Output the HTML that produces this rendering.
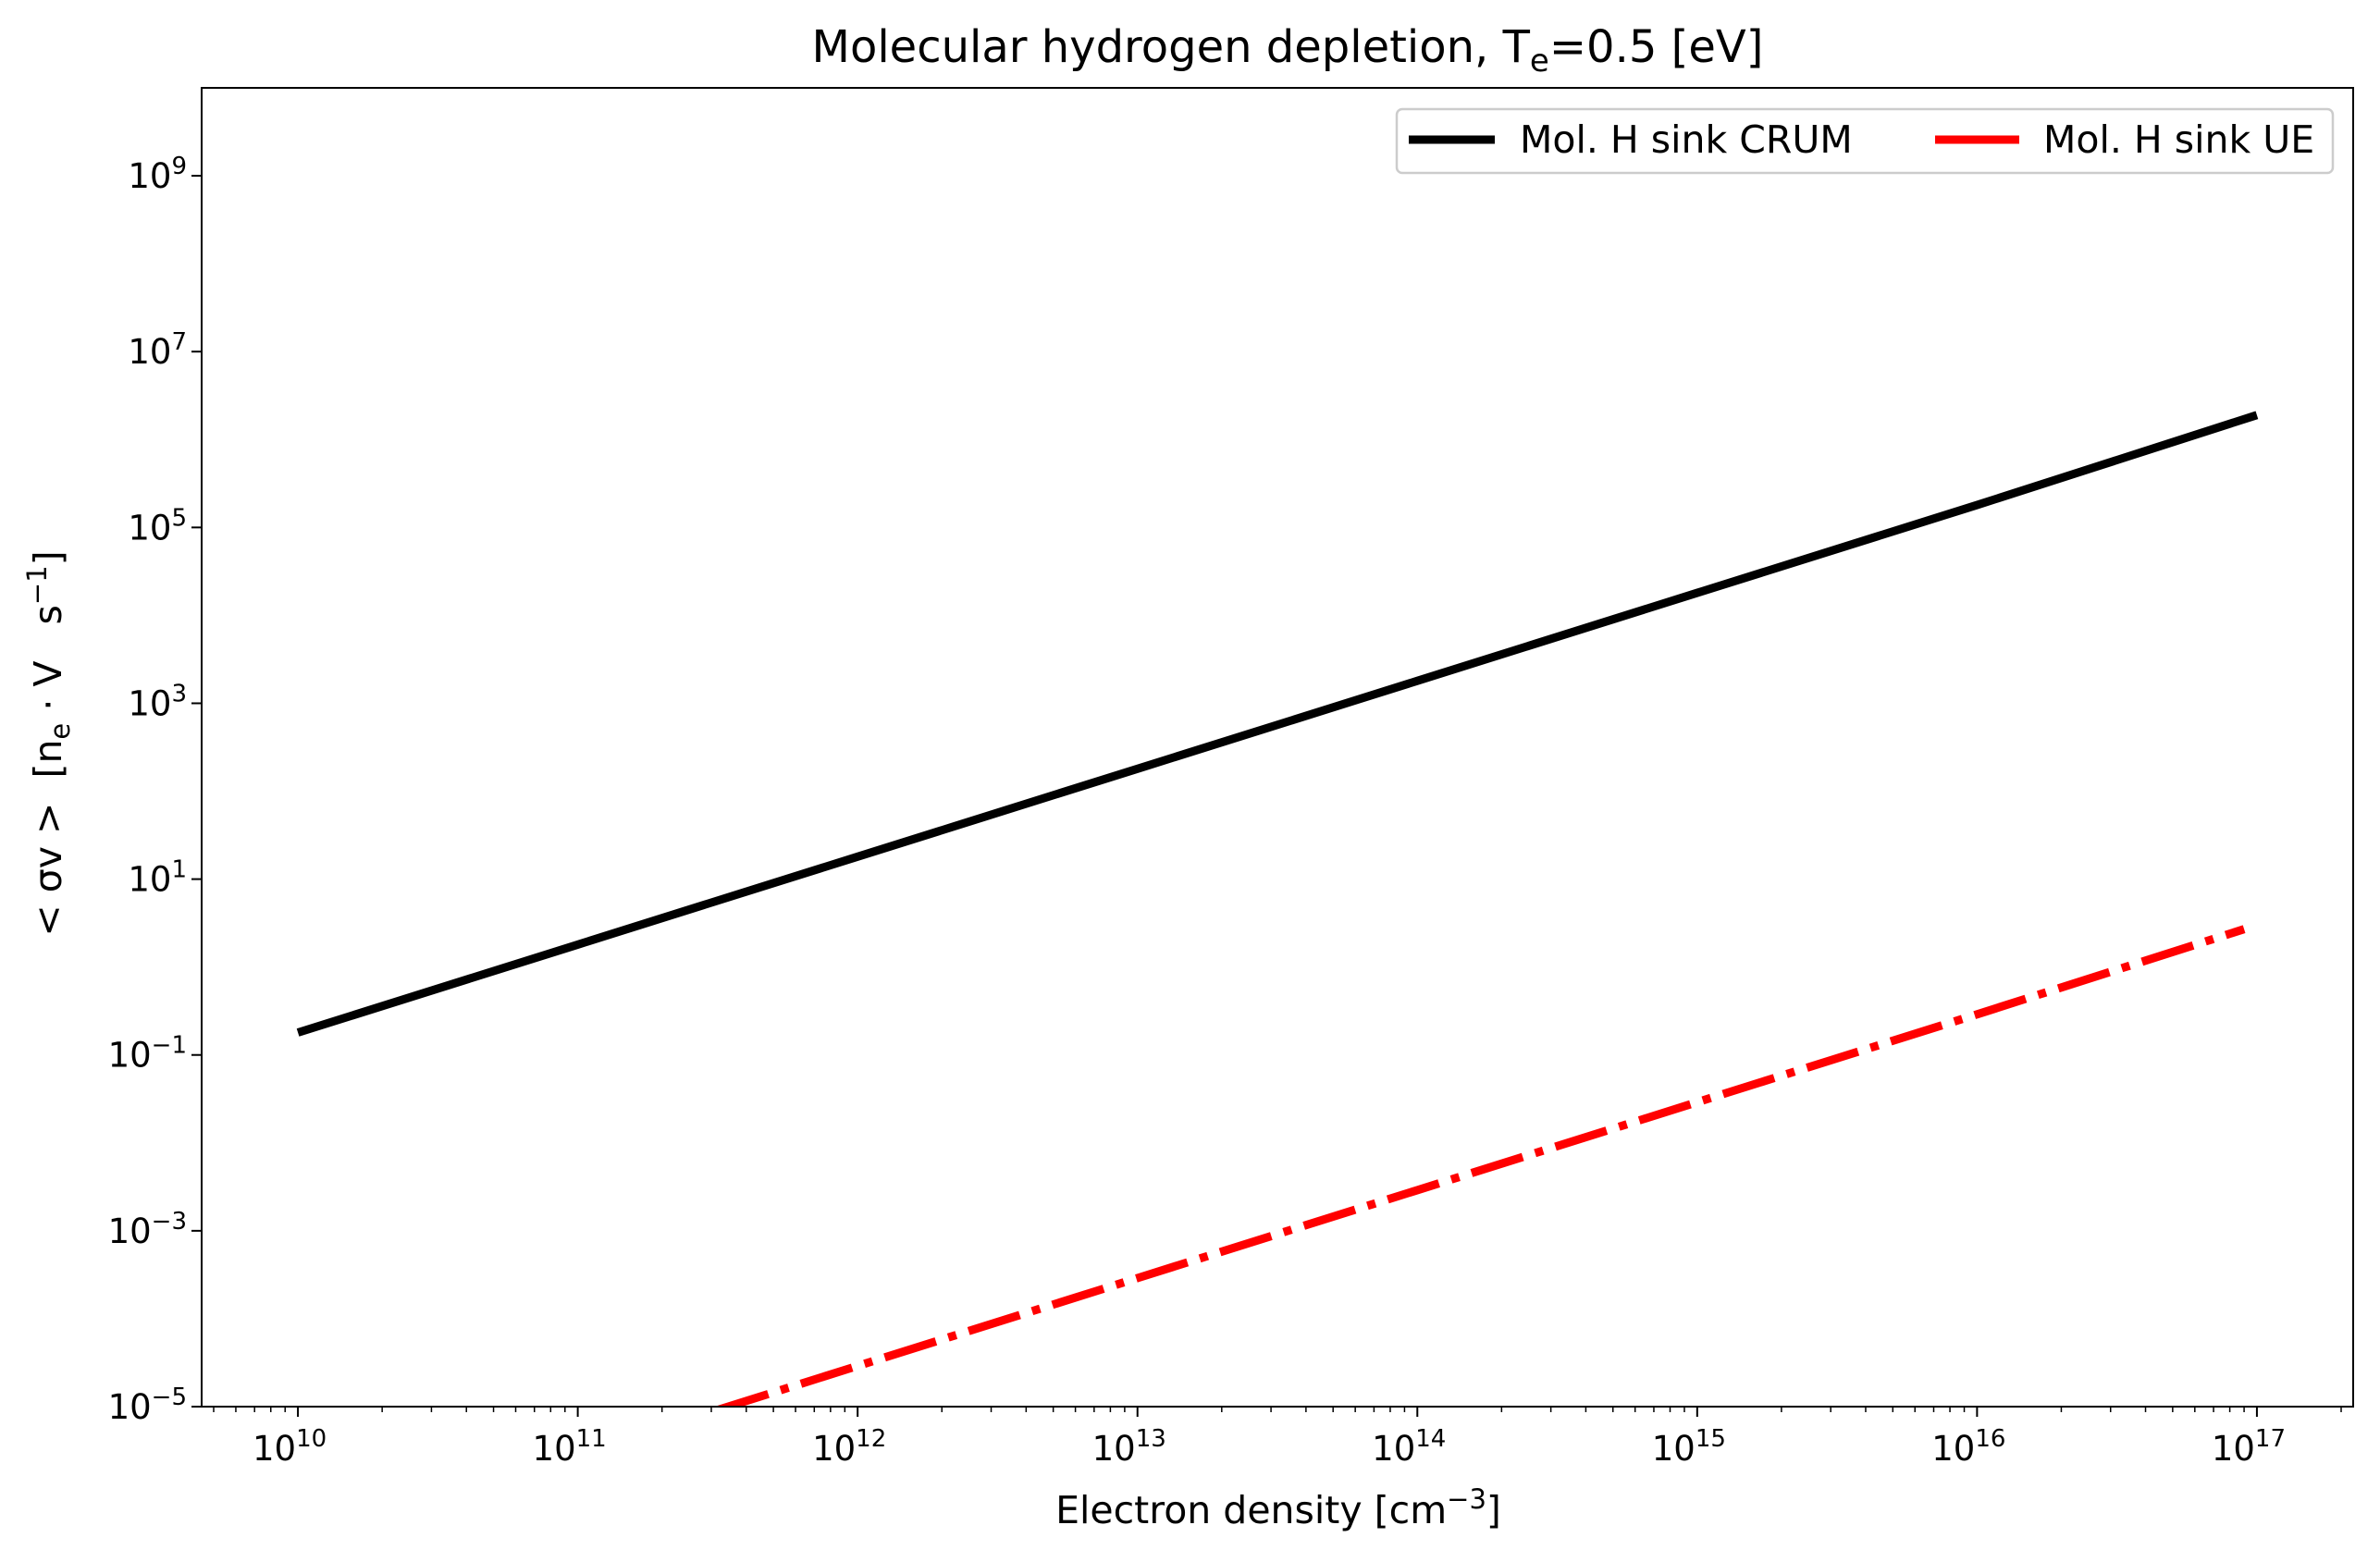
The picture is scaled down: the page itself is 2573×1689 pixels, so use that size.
<!DOCTYPE html>
<html><head><meta charset="utf-8"><style>
html,body{margin:0;padding:0;background:#fff;}
svg{display:block;font-family:"DejaVu Sans","Liberation Sans",sans-serif;}
</style></head><body>
<svg id="chart" width="2573" height="1689" viewBox="0 0 2573 1689" xmlns="http://www.w3.org/2000/svg">
<rect width="2573" height="1689" fill="#fff"/>
<text x="1392" y="67" font-size="48" text-anchor="middle">Molecular hydrogen depletion, T<tspan font-size="34" dy="10">e</tspan><tspan dy="-10">=0.5 [eV]</tspan></text>
<g id="plot"></g>
<text x="1382" y="1647" font-size="41" text-anchor="middle">Electron density [cm<tspan font-size="29" dy="-16">−3</tspan><tspan dy="16">]</tspan></text>
<text transform="translate(66,804) rotate(-90)" font-size="41" text-anchor="middle" xml:space="preserve">&lt; σv &gt;  [n<tspan font-size="29" dy="9">e</tspan><tspan dy="-9"> · V   s</tspan><tspan font-size="29" dy="-16">−1</tspan><tspan dy="16">]</tspan></text>
<g>
<rect x="1510" y="118" width="1012" height="69" rx="6" fill="#fff" stroke="#ccc" stroke-width="2.5"/>
<line x1="1523" y1="151" x2="1616" y2="151" stroke="#000" stroke-width="9"/>
<text x="1643" y="165" font-size="41">Mol. H sink CRUM</text>
<line x1="2092" y1="151" x2="2183" y2="151" stroke="#f00" stroke-width="9"/>
<text x="2209" y="165" font-size="41">Mol. H sink UE</text>
</g>
</svg>
<script>
const xValues = [1e10, 1e11, 1e12, 1e13, 1e14, 1e15, 1e16, 1e17];
const crumValues = [0.18, 1.8, 18, 180, 1800, 18000, 180000, 1.9e6];
const ueX = [1e10, 1e11, 1e12, 1e13, 1e14, 1e15, 1e16, 9e16];
const ueValues = [2.9e-7, 2.9e-6, 2.9e-5, 2.9e-4, 2.9e-3, 2.9e-2, 0.29, 2.7];
const xTickExps = [10, 11, 12, 13, 14, 15, 16, 17];
const yTickExps = [-5, -3, -1, 1, 3, 5, 7, 9];

const L = 218, R = 2544, T = 95, B = 1521;
const xMin = 9.656, xMax = 17.344, yMin = -5, yMax = 10;
const sx = v => L + (Math.log10(v) - xMin) / (xMax - xMin) * (R - L);
const sy = v => B - (Math.log10(v) - yMin) / (yMax - yMin) * (B - T);
const NS = "http://www.w3.org/2000/svg";
const plot = document.getElementById('plot');
function mk(tag, attrs, parent) {
  const e = document.createElementNS(NS, tag);
  for (const k in attrs) e.setAttribute(k, attrs[k]);
  (parent || plot).appendChild(e);
  return e;
}
const defs = mk('defs', {});
const cp = mk('clipPath', {id: 'clip'}, defs);
mk('rect', {x: L, y: T, width: R - L, height: B - T}, cp);

function series(xs, ys, color, dash, name) {
  const d = xs.map((x, i) => (i ? 'L' : 'M') + sx(x).toFixed(1) + ' ' + sy(ys[i]).toFixed(1)).join(' ');
  const p = mk('path', {d: d, fill: 'none', stroke: color, 'stroke-width': 9, 'clip-path': 'url(#clip)'});
  if (dash) p.setAttribute('stroke-dasharray', dash);
  
  
}
series(xValues, crumValues, '#000', null, 'crum-line');
series(ueX, ueValues, '#f00', '58 14 9 14', 'ue-line');

const frame = mk('rect', {x: L, y: T, width: R - L, height: B - T, fill: 'none', stroke: '#000', 'stroke-width': 2});



for (let e = 9; e <= 17; e++) {
  for (let m = 1; m <= 9; m++) {
    const v = m * Math.pow(10, e);
    const lv = Math.log10(v);
    if (lv < xMin || lv > xMax) continue;
    const x = sx(v);
    const len = m === 1 ? 11 : 6;
    mk('line', {x1: x, y1: B, x2: x, y2: B + len, stroke: '#000', 'stroke-width': m === 1 ? 2 : 1.5});
  }
}
xTickExps.forEach(e => {
  const x = sx(Math.pow(10, e));
  const t = mk('text', {x: x - 9, y: B + 58, 'font-size': 37, 'text-anchor': 'middle'});
  
  
  t.innerHTML = '10<tspan font-size="26" dy="-15">' + e + '</tspan>';
});
yTickExps.forEach(e => {
  const y = sy(Math.pow(10, e));
  mk('line', {x1: L - 11, y1: y, x2: L, y2: y, stroke: '#000', 'stroke-width': 2});
  const t = mk('text', {x: L - 16, y: y + 13, 'font-size': 37, 'text-anchor': 'end'});
  
  
  t.innerHTML = '10<tspan font-size="26" dy="-15">' + (e < 0 ? '−' + (-e) : e) + '</tspan>';
});
</script>
</body></html>
